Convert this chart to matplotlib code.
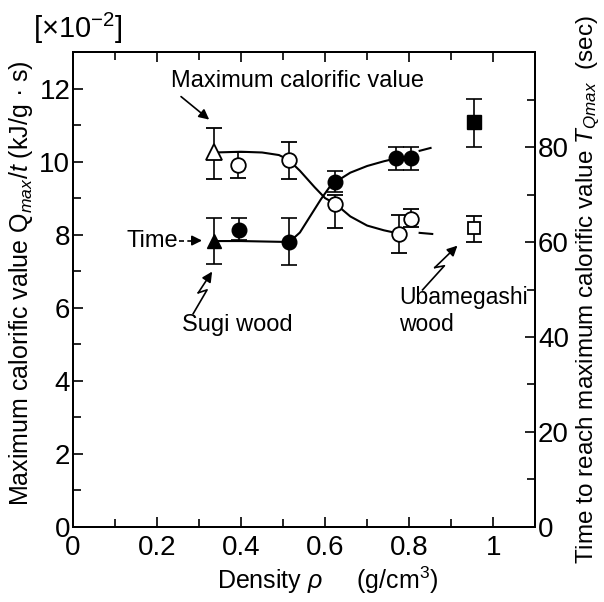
import numpy as np
import matplotlib
matplotlib.use('Agg')
import matplotlib.pyplot as plt
from matplotlib.ticker import MultipleLocator

plt.rcParams['font.family'] = ['Liberation Sans', 'DejaVu Sans']
plt.rcParams['mathtext.fontset'] = 'custom'
plt.rcParams['mathtext.rm'] = 'Liberation Sans'
plt.rcParams['mathtext.it'] = 'Liberation Sans:italic'
plt.rcParams['mathtext.bf'] = 'Liberation Sans:bold'

# ---------------------------------------------------------------------------
# Data
# ---------------------------------------------------------------------------
# maximum calorific value (left axis, x1e-2 kJ/g s), open circles
dens_q   = [0.393, 0.513, 0.624, 0.776, 0.805]
q_max    = [9.92, 10.05, 8.85, 8.03, 8.44]
q_lo     = [9.56, 9.53, 8.19, 7.50, 8.20]
q_hi     = [10.25, 10.55, 9.10, 8.55, 8.71]

# time to reach maximum (right axis, sec), filled circles
dens_t   = [0.395, 0.515, 0.624, 0.769, 0.805]
t_max    = [62.6, 60.0, 72.6, 77.6, 77.6]
t_lo     = [60.4, 55.2, 70.5, 75.2, 75.2]
t_hi     = [65.0, 65.0, 74.9, 80.0, 80.0]

# Sugi wood (triangles) and Ubamegashi wood (squares)
sugi_dens, sugi_q, sugi_q_lo, sugi_q_hi = 0.336, 10.25, 9.53, 10.93
sugi_t, sugi_t_lo, sugi_t_hi = 60.2, 55.3, 65.0
uba_dens, uba_q, uba_q_lo, uba_q_hi = 0.955, 8.19, 7.80, 8.52
uba_t, uba_t_lo, uba_t_hi = 85.2, 80.0, 90.1

# hand-drawn trend curves
curve_q_x  = [0.336, 0.40, 0.45, 0.49, 0.513, 0.54, 0.575, 0.60, 0.624, 0.66, 0.70, 0.74, 0.776]
curve_q_y  = [10.25, 10.27, 10.25, 10.18, 10.05, 9.75, 9.30, 9.00, 8.85, 8.50, 8.25, 8.12, 8.03]
dash_q_x   = [0.825, 0.855]
dash_q_y   = [8.05, 8.02]
curve_t_x  = [0.336, 0.40, 0.515, 0.54, 0.565, 0.59, 0.61, 0.624, 0.66, 0.70, 0.74, 0.769]
curve_t_y  = [60.2, 60.2, 60.0, 62.0, 65.5, 69.0, 71.5, 72.6, 74.6, 76.0, 77.0, 77.6]
dash_t_x   = [0.825, 0.851]
dash_t_y   = [79.2, 79.8]

# lightning-bolt pointers (left-axis coordinates)
bolt_sugi_x = [0.286, 0.319, 0.298, 0.331]
bolt_sugi_y = [5.84, 6.49, 6.41, 6.99]
bolt_uba_x  = [0.832, 0.884, 0.861, 0.915]
bolt_uba_y  = [6.49, 7.15, 7.10, 7.70]

FS = 17
LABEL_FS = 18
TICK_FS = 20

fig = plt.figure(figsize=(6.04, 6.02), dpi=100)
ax = fig.add_axes([0.121, 0.1246, 0.765, 0.789])
ax2 = ax.twinx()

ebkw = dict(ecolor='k', elinewidth=1.2, capsize=6, capthick=1.2, ls='none')
arrow_kw = dict(arrowstyle='-|>', color='k', lw=1.2, mutation_scale=15,
                shrinkA=0, shrinkB=0)

# ---- left axis: calorific value ----
ax.plot(curve_q_x, curve_q_y, '-', color='k', lw=1.5, zorder=1)
ax.plot(dash_q_x, dash_q_y, '-', color='k', lw=1.5, zorder=1)
ax.errorbar(dens_q, q_max,
            yerr=[np.subtract(q_max, q_lo), np.subtract(q_hi, q_max)],
            fmt='o', ms=10.5, mfc='white', mec='k', mew=1.3, zorder=3, **ebkw)
ax.errorbar([sugi_dens], [sugi_q], yerr=[[sugi_q - sugi_q_lo], [sugi_q_hi - sugi_q]],
            fmt='^', ms=11, mfc='white', mec='k', mew=1.3, zorder=3, **ebkw)
ax.errorbar([uba_dens], [uba_q], yerr=[[uba_q - uba_q_lo], [uba_q_hi - uba_q]],
            fmt='s', ms=9, mfc='white', mec='k', mew=1.3, zorder=3, **ebkw)

# ---- right axis: time ----
ax2.plot(curve_t_x, curve_t_y, '-', color='k', lw=1.5, zorder=1)
ax2.plot(dash_t_x, dash_t_y, '-', color='k', lw=1.5, zorder=1)
ax2.errorbar(dens_t, t_max,
             yerr=[np.subtract(t_max, t_lo), np.subtract(t_hi, t_max)],
             fmt='o', ms=10.5, mfc='k', mec='k', zorder=3, **ebkw)
ax2.errorbar([sugi_dens], [sugi_t], yerr=[[sugi_t - sugi_t_lo], [sugi_t_hi - sugi_t]],
             fmt='^', ms=10, mfc='k', mec='k', zorder=3, **ebkw)
ax2.errorbar([uba_dens], [uba_t], yerr=[[uba_t - uba_t_lo], [uba_t_hi - uba_t]],
             fmt='s', ms=10, mfc='k', mec='k', zorder=3, **ebkw)

# ---- axes ----
ax.set_xlim(0, 1.1)
ax.set_ylim(0, 13)
ax2.set_ylim(0, 100)
ax.set_xticks([0, 0.2, 0.4, 0.6, 0.8, 1.0])
ax.set_xticklabels(['0', '0.2', '0.4', '0.6', '0.8', '1'])
ax.xaxis.set_minor_locator(MultipleLocator(0.1))
ax.set_yticks([0, 2, 4, 6, 8, 10, 12])
ax.yaxis.set_minor_locator(MultipleLocator(1))
ax2.set_yticks([0, 20, 40, 60, 80])
ax2.yaxis.set_minor_locator(MultipleLocator(10))

for a in (ax, ax2):
    for s in a.spines.values():
        s.set_linewidth(1.4)
ax.tick_params(which='both', direction='in', top=True, right=False,
               labelsize=TICK_FS, width=1.2, pad=2)
ax.tick_params(axis='x', which='both', pad=6)
ax.tick_params(which='major', length=7)
ax.tick_params(which='minor', length=6)
ax2.tick_params(which='both', direction='in', labelsize=TICK_FS, width=1.2, pad=2)
ax2.tick_params(which='major', length=7)
ax2.tick_params(which='minor', length=6)

ax.set_xlabel(r'Density $\rho$     (g/cm$^3$)', fontsize=LABEL_FS)
ax.xaxis.set_label_coords(0.552, -0.08)
ax.set_ylabel(r'Maximum calorific value Q$_{max}$/$t$ (kJ/g · s)', fontsize=LABEL_FS)
ax.yaxis.set_label_coords(-0.082, 0.514)
ax2.set_ylabel(r'Time to reach maximum calorific value $T_{Qmax}$  (sec)',
               fontsize=17.5)
ax2.yaxis.set_label_coords(1.086, 0.5)

fig.text(33 / 604, 1 - 28 / 602, r'[$\times$10$^{-2}$]', fontsize=21,
         ha='left', va='center')

# ---- annotations ----
ax.text(0.234, 12.2, 'Maximum calorific value', fontsize=FS, ha='left', va='center')
ax.annotate('', xy=(0.324, 11.15), xytext=(0.257, 11.78), arrowprops=arrow_kw)

ax.text(0.250, 7.84, 'Time', fontsize=FS, ha='right', va='center')
ax.plot([0.253, 0.290], [7.84, 7.84], color='k', lw=1.2, ls=(0, (3, 2)))
ax.annotate('', xy=(0.307, 7.84), xytext=(0.288, 7.84), arrowprops=arrow_kw)

ax.text(0.392, 5.53, 'Sugi wood', fontsize=FS, ha='center', va='center')
ax.plot(bolt_sugi_x[:-1], bolt_sugi_y[:-1], color='k', lw=1.2)
ax.annotate('', xy=(bolt_sugi_x[-1], bolt_sugi_y[-1]),
            xytext=(bolt_sugi_x[-2], bolt_sugi_y[-2]), arrowprops=arrow_kw)

ax.text(0.776, 6.27, 'Ubamegashi', fontsize=16.5, ha='left', va='center')
ax.text(0.776, 5.53, 'wood', fontsize=16.5, ha='left', va='center')
ax.plot(bolt_uba_x[:-1], bolt_uba_y[:-1], color='k', lw=1.2)
ax.annotate('', xy=(bolt_uba_x[-1], bolt_uba_y[-1]),
            xytext=(bolt_uba_x[-2], bolt_uba_y[-2]), arrowprops=arrow_kw)

fig.savefig('out.png', dpi=100)
